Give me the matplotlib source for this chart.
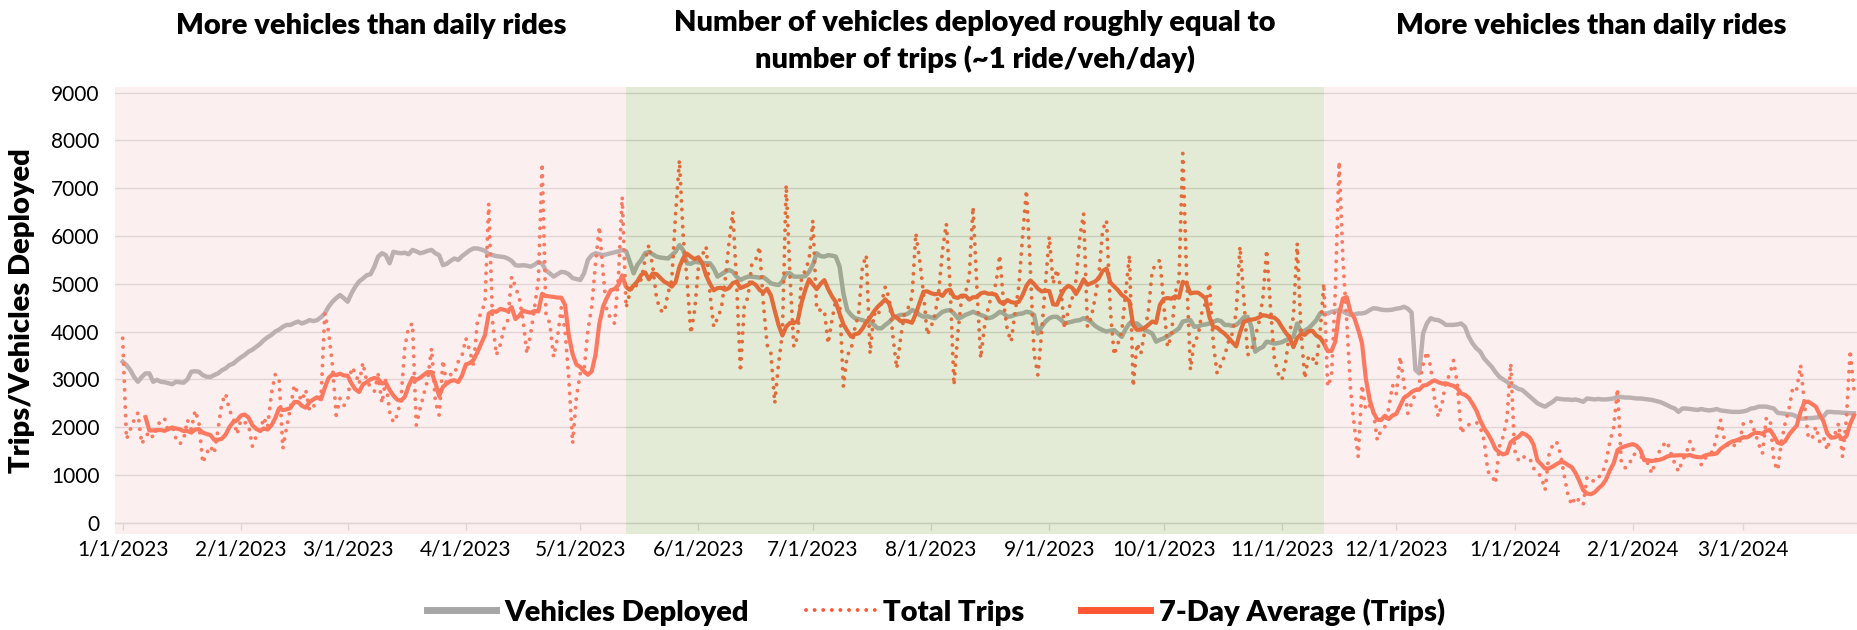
import pandas as pd
import matplotlib
matplotlib.use('Agg')
import matplotlib.pyplot as plt
import matplotlib.dates as mdates
from matplotlib.ticker import FuncFormatter
from matplotlib.lines import Line2D

plt.rcParams['font.family'] = ['Lato', 'DejaVu Sans']

# daily data, starting 1/1/2023 (one row of 7 = one week)
start_date = '2023-01-01'
total_trips = [
    3860, 1750, 1950, 2150, 2300, 1650, 1800,
    1900, 1780, 2000, 2150, 2180, 1900, 2050,
    1750, 1650, 1750, 2150, 1950, 2350, 2100,
    1250, 1450, 1600, 1450, 1950, 2500, 2700,
    2350, 2200, 1850, 2150, 2100, 2050, 1600,
    1800, 1900, 2200, 2000, 2700, 3100, 3050,
    1550, 2000, 2400, 2880, 2700, 2550, 2780,
    2350, 2400, 2700, 2600, 4380, 4000, 3300,
    2250, 2600, 2450, 2550, 3250, 3150, 2900,
    3350, 2950, 2850, 2750, 3100, 2500, 3000,
    2320, 2100, 2250, 2600, 3680, 4100, 4170,
    2040, 2390, 2700, 3000, 3650, 2530, 2250,
    3400, 2850, 3100, 3100, 3370, 3500, 3860,
    3600, 3300, 4200, 4400, 4600, 6680, 4210,
    3510, 3720, 4070, 4240, 5150, 4940, 4700,
    4240, 3540, 3960, 4500, 5080, 7520, 4380,
    4170, 3470, 3860, 4500, 4030, 3000, 1660,
    2640, 3125, 3195, 4030, 4520, 5430, 6200,
    5220, 4380, 4300, 4170, 5150, 6820, 4500,
    4800, 5000, 4950, 5100, 5500, 5810, 5360,
    4700, 4450, 4400, 4800, 5080, 6470, 7590,
    5990, 5080, 3960, 4450, 5360, 5600, 5780,
    4800, 4100, 4280, 4490, 5080, 5850, 6510,
    5000, 3160, 4520, 4730, 5430, 5500, 5780,
    4600, 3720, 3540, 2500, 3330, 3960, 7070,
    5150, 3680, 3890, 5080, 5290, 5500, 6330,
    4450, 4450, 4450, 3750, 4240, 4660, 4660,
    2850, 3510, 3610, 4070, 4380, 5360, 5600,
    3540, 4380, 4310, 4600, 4940, 4700, 3890,
    3230, 3860, 4380, 4500, 4730, 6060, 5500,
    4800, 3930, 4100, 4350, 4835, 5710, 6260,
    4940, 2880, 3960, 4700, 4800, 5150, 6610,
    4940, 3440, 4100, 4500, 4800, 5000, 5600,
    4600, 4030, 3790, 4400, 4940, 6000, 6960,
    5360, 3540, 3090, 4000, 5010, 5990, 5000,
    5300, 4900, 4070, 4450, 4700, 5080, 5990,
    6470, 4100, 4300, 4700, 5200, 6130, 6330,
    4450, 3510, 3750, 4000, 4800, 5600, 2850,
    3750, 3540, 4000, 4450, 5290, 5400, 5500,
    4600, 3680, 3900, 4800, 5080, 7730, 5200,
    3200, 3800, 3900, 4400, 4600, 5010, 3750,
    3125, 3300, 3500, 3800, 3960, 4400, 5780,
    4700, 3510, 3600, 3900, 4200, 4700, 5710,
    4500, 3440, 3125, 2990, 3370, 4000, 4300,
    5850, 4000, 3020, 3500, 3450, 3300, 4000,
    5010, 2850, 3060, 4870, 7560, 5500, 4200,
    2780, 2000, 1380, 2880, 2360, 2450, 2300,
    1730, 1940, 2010, 2400, 2880, 2700, 3475,
    2900, 2290, 2500, 2700, 2920, 3300, 3580,
    3265, 2600, 2220, 2500, 2950, 3100, 3400,
    2900, 1870, 2010, 2050, 2080, 2100, 2000,
    1730, 1070, 1000, 820, 1590, 1800, 2180,
    3335, 1520, 1310, 1400, 1350, 1350, 1140,
    1050, 960, 685, 1415, 1625, 1700, 1450,
    1000, 580, 370, 545, 450, 370, 960,
    900, 860, 950, 1030, 1275, 1700, 2000,
    2810, 1240, 1150, 1200, 1415, 1450, 1400,
    1300, 1240, 1030, 1300, 1500, 1625, 1700,
    1450, 1240, 1070, 1300, 1450, 1700, 1500,
    1350, 1210, 1350, 1450, 1485, 1800, 2150,
    1750, 1600, 1650, 1600, 1700, 2080, 2115,
    2115, 1900, 1650, 1450, 2180, 2180, 1275,
    1100, 1700, 2100, 2390, 2850, 2800, 3300,
    2500, 1800, 1750, 2010, 1700, 1800, 1520,
    1870, 1850, 2080, 1380, 2150, 3610, 2780,
]

vehicles_deployed = [
    3370, 3300, 3195, 3050, 2950, 3050, 3125,
    3125, 2950, 2990, 2950, 2940, 2920, 2900,
    2950, 2940, 2930, 3000, 3160, 3170, 3160,
    3090, 3055, 3050, 3090, 3125, 3190, 3230,
    3300, 3330, 3400, 3460, 3510, 3580, 3620,
    3680, 3740, 3820, 3880, 3930, 4000, 4040,
    4100, 4140, 4140, 4180, 4210, 4170, 4200,
    4240, 4220, 4240, 4300, 4380, 4520, 4625,
    4700, 4765, 4700, 4625, 4800, 4940, 5050,
    5110, 5180, 5200, 5360, 5570, 5640, 5600,
    5430, 5670, 5650, 5640, 5650, 5620, 5710,
    5680, 5640, 5660, 5690, 5710, 5640, 5600,
    5390, 5420, 5480, 5530, 5500, 5580, 5640,
    5700, 5740, 5740, 5720, 5690, 5620, 5600,
    5580, 5570, 5560, 5530, 5480, 5390, 5380,
    5390, 5380, 5360, 5400, 5460, 5420, 5280,
    5220, 5150, 5200, 5250, 5240, 5200, 5120,
    5100, 5080, 5220, 5500, 5600, 5640, 5620,
    5600, 5620, 5640, 5660, 5680, 5710, 5680,
    5460, 5220, 5400, 5500, 5640, 5670, 5620,
    5570, 5550, 5540, 5530, 5600, 5670, 5810,
    5700, 5430, 5420, 5460, 5450, 5440, 5430,
    5430, 5320, 5150, 5200, 5250, 5290, 5250,
    5150, 5080, 5120, 5150, 5150, 5140, 5130,
    5140, 5080, 5010, 4990, 4975, 5050, 5220,
    5220, 5150, 5150, 5150, 5160, 5250, 5400,
    5640, 5580, 5570, 5600, 5590, 5570, 5360,
    4800, 4450, 4350, 4280, 4260, 4240, 4210,
    4200, 4140, 4070, 4070, 4140, 4200, 4280,
    4320, 4350, 4350, 4380, 4450, 4420, 4350,
    4310, 4320, 4300, 4280, 4350, 4415, 4440,
    4450, 4380, 4280, 4300, 4350, 4380, 4415,
    4380, 4350, 4320, 4280, 4300, 4350, 4415,
    4380, 4310, 4320, 4350, 4370, 4380, 4415,
    4400, 4350, 3960, 4100, 4210, 4280, 4310,
    4310, 4250, 4170, 4190, 4210, 4230, 4240,
    4280, 4250, 4200, 4120, 4070, 4030, 4000,
    4020, 4030, 3960, 3890, 4050, 4170, 4170,
    4170, 4100, 4030, 4000, 3960, 3790, 3830,
    3860, 3900, 3960, 4010, 4070, 4210, 4230,
    4240, 4100, 4110, 4140, 4150, 4170, 4200,
    4240, 4220, 4140, 4140, 4120, 4140, 4210,
    4300, 4310, 4100, 3580, 3640, 3680, 3790,
    3770, 3750, 3760, 3780, 3820, 3860, 3890,
    4170, 4000, 4020, 4070, 4150, 4240, 4380,
    4380, 4380, 4415, 4430, 4450, 4420, 4380,
    4350, 4360, 4380, 4380, 4400, 4450, 4490,
    4480, 4460, 4450, 4450, 4460, 4480, 4490,
    4520, 4480, 4400, 3200, 3125, 3960, 4170,
    4280, 4250, 4240, 4200, 4140, 4140, 4140,
    4150, 4170, 4100, 3890, 3750, 3650, 3580,
    3440, 3350, 3265, 3150, 3055, 3000, 2950,
    2880, 2850, 2800, 2780, 2710, 2640, 2570,
    2500, 2460, 2430, 2480, 2530, 2600, 2590,
    2580, 2580, 2570, 2580, 2560, 2530, 2600,
    2590, 2580, 2590, 2580, 2580, 2590, 2600,
    2640, 2630, 2620, 2620, 2610, 2600, 2600,
    2590, 2580, 2570, 2550, 2530, 2500, 2460,
    2420, 2390, 2320, 2390, 2390, 2380, 2370,
    2360, 2380, 2360, 2350, 2360, 2380, 2350,
    2340, 2330, 2320, 2320, 2320, 2330, 2350,
    2390, 2400, 2430, 2430, 2430, 2410, 2390,
    2300, 2290, 2280, 2270, 2260, 2220, 2180,
    2180, 2190, 2190, 2200, 2210, 2220, 2320,
    2320, 2310, 2310, 2300, 2300, 2290, 2290,
]

# period where vehicles ~ trips
balanced_start = '2023-05-13'
balanced_end = '2023-11-12'

section_titles = ['More vehicles than daily rides',
                  'Number of vehicles deployed roughly equal to\nnumber of trips (~1 ride/veh/day)',
                  'More vehicles than daily rides']

dates = pd.date_range(start_date, periods=len(total_trips), freq='D')
trips = pd.Series(total_trips, index=dates)
avg7 = trips.rolling(7).mean()

gray = '#A6A6A6'
red = '#FF5733'
dots = (0, (0.01, 2.2))

fig = plt.figure(figsize=(18.57, 6.30), dpi=100)
ax = fig.add_axes([0.0619, 0.1524, 0.9381, 0.7100])

ax.plot(dates, vehicles_deployed, color=gray, lw=3.2, zorder=2,
        solid_joinstyle='round')
ax.plot(dates, total_trips, color=red, lw=2.8, linestyle=dots,
        dash_capstyle='round', zorder=3)
ax.plot(avg7.index, avg7.values, color=red, lw=3.0, zorder=4,
        solid_joinstyle='round')

x0 = mdates.date2num(pd.Timestamp(start_date)) - 2.02
x1 = mdates.date2num(pd.Timestamp(start_date)) + 454.8
ax.set_xlim(x0, x1)
ax.set_ylim(-236, 9126)

# shaded periods drawn over the lines, like the semi transparent areas in the original
b0 = mdates.date2num(pd.Timestamp(balanced_start))
b1 = mdates.date2num(pd.Timestamp(balanced_end))
ax.axvspan(x0, b0, color='#F8CBCB', alpha=0.29, lw=0, zorder=5)
ax.axvspan(b0, b1, color='#8EAB53', alpha=0.24, lw=0, zorder=5)
ax.axvspan(b1, x1, color='#F8CBCB', alpha=0.29, lw=0, zorder=5)

ax.set_yticks(range(0, 9001, 1000))
ax.grid(axis='y', color='#D9D9D9', lw=1.0, zorder=0)
ax.set_axisbelow(True)
for s in ['top', 'right', 'left']:
    ax.spines[s].set_visible(False)
ax.spines['bottom'].set_position(('data', 0))
ax.spines['bottom'].set_color('#D9D9D9')
ax.spines['bottom'].set_linewidth(1.0)

month_ticks = pd.date_range('2023-01-01', '2024-03-01', freq='MS')
ax.set_xticks(mdates.date2num(month_ticks))
ax.xaxis.set_major_formatter(FuncFormatter(
    lambda v, p: '{d.month}/{d.day}/{d.year}'.format(d=mdates.num2date(v))))
ax.tick_params(axis='x', length=5, width=1.0, color='#D9D9D9', pad=7,
               labelsize=15, labelcolor='black')
ax.tick_params(axis='y', length=0, pad=11, labelsize=15, labelcolor='black')

ax.set_ylabel('Trips/Vehicles Deployed', fontsize=21, fontweight='heavy')
ax.yaxis.set_label_coords(-0.046, 0.5)

fig.text(0.1998, 0.958, section_titles[0], ha='center', va='center',
         fontsize=21, fontweight='heavy')
fig.text(0.525, 0.934, section_titles[1], ha='center', va='center',
         fontsize=21, fontweight='heavy', linespacing=1.4)
fig.text(0.8567, 0.958, section_titles[2], ha='center', va='center',
         fontsize=21, fontweight='heavy')

handles = [Line2D([], [], color=gray, lw=5),
           Line2D([], [], color=red, lw=2.8, linestyle=dots,
                  dash_capstyle='round'),
           Line2D([], [], color=red, lw=5)]
labels = ['Vehicles Deployed', 'Total Trips', '7-Day Average (Trips)']
leg = fig.legend(handles, labels, loc='center', bbox_to_anchor=(0.504, 0.029),
                 ncol=3, frameon=False, handlelength=2.36, handletextpad=0.3,
                 columnspacing=1.95, prop={'size': 21, 'weight': 'heavy'})

fig.savefig('out.png', dpi=100)
